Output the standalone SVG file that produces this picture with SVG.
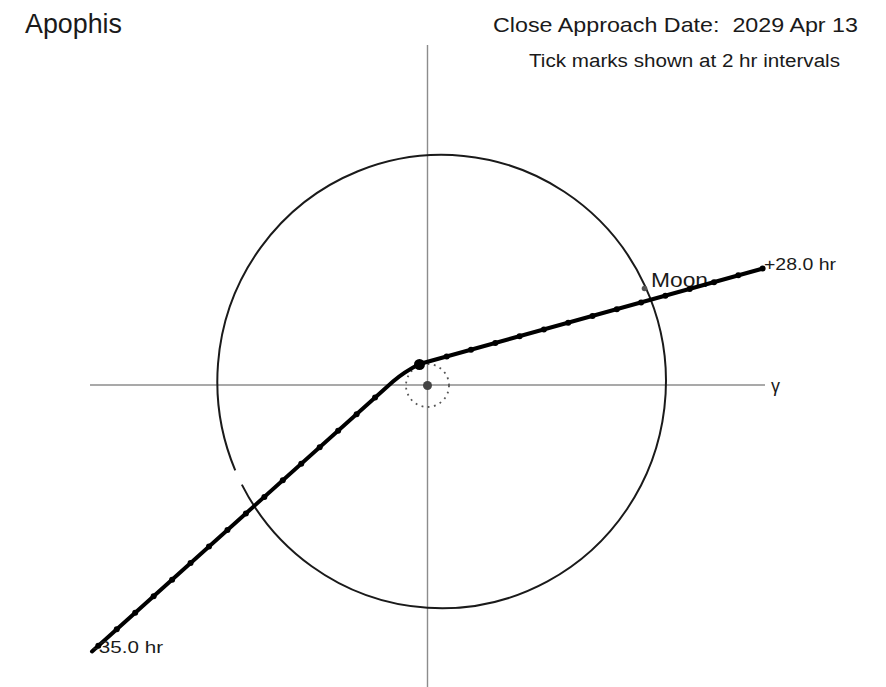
<svg xmlns="http://www.w3.org/2000/svg" width="886" height="687" viewBox="0 0 886 687">
<style>
  text { font-family: "Liberation Sans", Arial, sans-serif; fill: #1a1a1a; }
  .axis { stroke: #8c8c8c; stroke-width: 1.4; fill: none; }
  .orbit { stroke: #1a1a1a; stroke-width: 2; fill: none; }
  .traj { stroke: #000; stroke-width: 4; fill: none; stroke-linejoin: round; stroke-linecap: round; }
  .tick { fill: #000; }
</style>
<rect width="886" height="687" fill="#fff"/>
<g id="titles">
  <text x="25" y="33" font-size="27" textLength="97" lengthAdjust="spacingAndGlyphs">Apophis</text>
  <text x="493" y="32" font-size="21" textLength="365" lengthAdjust="spacingAndGlyphs" style="white-space:pre">Close Approach Date:  2029 Apr 13</text>
  <text x="529" y="67" font-size="18" textLength="311" lengthAdjust="spacingAndGlyphs">Tick marks shown at 2 hr intervals</text>
</g>
<g id="axes">
  <line class="axis" x1="427.5" y1="45" x2="427.5" y2="687"/>
  <line class="axis" x1="90" y1="385" x2="765" y2="385"/>
  <text x="771" y="392" font-size="18">γ</text>
</g>
<g id="moon-orbit">
  <path class="orbit" d="M241.85,484.6 A224.3 226.7 0 1 0 235.23,470.28"/>
</g>
<g id="earth">
  <circle cx="427.5" cy="385.5" r="21.5" fill="none" stroke="#555" stroke-width="1.8" stroke-dasharray="1.8 4.5"/>
  <circle cx="427.5" cy="385.5" r="4.5" fill="#444"/>
</g>
<g id="moon">
  <circle cx="644.5" cy="288.5" r="2.8" fill="#555"/>
  <text x="651" y="287" font-size="20" textLength="57" lengthAdjust="spacingAndGlyphs">Moon</text>
</g>
<g id="trajectory">
  <path class="traj" d="M92,651.5 L393,381.5 Q404,372 419.5,364 L763,268.5"/>
  <circle cx="419.5" cy="364.5" r="5.5" fill="#000"/>
  <g id="ticks-before">
    <circle class="tick" cx="98.3" cy="645.85" r="3"/>
    <circle class="tick" cx="116.75" cy="629.3" r="3"/>
    <circle class="tick" cx="135.2" cy="612.75" r="3"/>
    <circle class="tick" cx="153.65" cy="596.2" r="3"/>
    <circle class="tick" cx="172.1" cy="579.65" r="3"/>
    <circle class="tick" cx="190.55" cy="563.1" r="3"/>
    <circle class="tick" cx="209" cy="546.55" r="3"/>
    <circle class="tick" cx="227.45" cy="530" r="3"/>
    <circle class="tick" cx="245.9" cy="513.45" r="3"/>
    <circle class="tick" cx="264.35" cy="496.9" r="3"/>
    <circle class="tick" cx="282.8" cy="480.35" r="3"/>
    <circle class="tick" cx="301.25" cy="463.8" r="3"/>
    <circle class="tick" cx="319.7" cy="447.25" r="3"/>
    <circle class="tick" cx="338.15" cy="430.7" r="3"/>
    <circle class="tick" cx="356.6" cy="414.15" r="3"/>
    <circle class="tick" cx="375.05" cy="397.6" r="3"/>
  </g>
  <g id="ticks-after">
    <circle class="tick" cx="446.7" cy="356.44" r="3"/>
    <circle class="tick" cx="471" cy="349.68" r="3"/>
    <circle class="tick" cx="495.3" cy="342.93" r="3"/>
    <circle class="tick" cx="519.6" cy="336.17" r="3"/>
    <circle class="tick" cx="543.9" cy="329.42" r="3"/>
    <circle class="tick" cx="568.2" cy="322.66" r="3"/>
    <circle class="tick" cx="592.5" cy="315.91" r="3"/>
    <circle class="tick" cx="616.8" cy="309.15" r="3"/>
    <circle class="tick" cx="641.1" cy="302.4" r="3"/>
    <circle class="tick" cx="665.4" cy="295.64" r="3"/>
    <circle class="tick" cx="689.7" cy="288.88" r="3"/>
    <circle class="tick" cx="714" cy="282.13" r="3"/>
    <circle class="tick" cx="738.3" cy="275.37" r="3"/>
    <circle class="tick" cx="762.6" cy="268.62" r="3"/>
  </g>
  <text x="92" y="653" font-size="16" textLength="71" lengthAdjust="spacingAndGlyphs">-35.0 hr</text>
  <text x="764" y="270" font-size="16" textLength="72" lengthAdjust="spacingAndGlyphs">+28.0 hr</text>
</g>
</svg>
